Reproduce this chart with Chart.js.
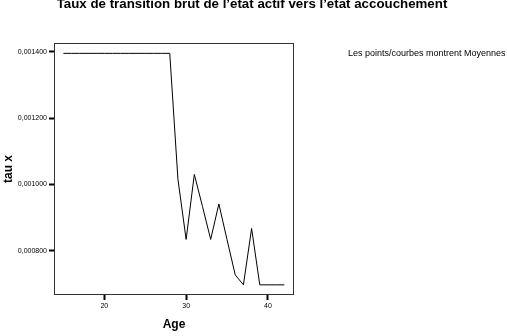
<!DOCTYPE html>
<html>
<head>
<meta charset="utf-8">
<script src="https://cdn.jsdelivr.net/npm/chart.js@4.4.0/dist/chart.umd.min.js"></script>
<style>
html,body{margin:0;padding:0;background:#fff;}
#wrap{position:relative;width:507px;height:336px;}
</style>
</head>
<body>
<div id="wrap"><canvas id="c" width="507" height="336"></canvas></div>
<script>
const ages = [15,16,17,18,19,20,21,22,23,24,25,26,27,28,29,30,31,32,33,34,35,36,37,38,39,40,41,42];
const tauX = [0.001395,0.001395,0.001395,0.001395,0.001395,0.001395,0.001395,0.001395,0.001395,0.001395,0.001395,0.001395,0.001395,0.001395,
  0.001015,0.000834,0.001030,0.000933,0.000834,0.000941,0.000833,0.000727,0.000697,0.000867,0.000697,0.000697,0.000697,0.000697];
const xTicks = [20,30,40];
const yTicks = [0.0008,0.0010,0.0012,0.0014];
const titleText = "Taux de transition brut de l’etat actif vers l’etat accouchement";
const noteText = "Les points/courbes montrent Moyennes";
const xTitle = "Age";
const yTitle = "tau x";

const FONT = "'Liberation Sans', Arial, sans-serif";

const extras = {
  id:'extras',
  afterDraw(chart){
    const ctx = chart.ctx, a = chart.chartArea;
    ctx.save();
    ctx.strokeStyle = '#333';
    ctx.lineWidth = 1;
    ctx.strokeRect(Math.round(a.left)+0.5, Math.round(a.top)+0.5, Math.round(a.right-a.left)-1, Math.round(a.bottom-a.top)-1);
    ctx.fillStyle = '#000';
    ctx.font = "bold 13.3px " + FONT;
    ctx.textAlign = 'center';
    ctx.textBaseline = 'alphabetic';
    ctx.fillText(titleText, 252, 8);
    ctx.font = "9px " + FONT;
    ctx.textAlign = 'left';
    ctx.textBaseline = 'middle';
    ctx.fillText(noteText, 348, 54);
    ctx.restore();
  }
};

new Chart(document.getElementById('c'), {
  type:'line',
  data:{ datasets:[{ data: ages.map((a,i)=>({x:a,y:tauX[i]})), borderColor:'#000', borderWidth:1, pointRadius:0, tension:0, fill:false }]},
  options:{
    responsive:false, animation:false, devicePixelRatio:1,
    layout:{ padding:{ left:0, top:43, right:213, bottom:0 } },
    plugins:{ legend:{display:false}, tooltip:{enabled:false}, title:{display:false} },
    scales:{
      x:{
        type:'linear', min:13.855, max:43.18,
        afterBuildTicks: s => { s.ticks = xTicks.map(v=>({value:v})); },
        afterFit: s => { s.height = 41; },
        grid:{ drawOnChartArea:false, drawTicks:true, tickLength:5, tickWidth:2, tickColor:'#000' },
        border:{ display:false },
        ticks:{ color:'#000', font:{ family:FONT, size:7 }, padding:2, maxRotation:0 },
        title:{ display:true, text:xTitle, color:'#000', font:{ family:FONT, size:12, weight:'bold' }, padding:{top:7} }
      },
      y:{
        type:'linear', min:0.0006664, max:0.0014262,
        afterBuildTicks: s => { s.ticks = yTicks.map(v=>({value:v})); },
        afterFit: s => { s.width = 54; },
        grid:{ drawOnChartArea:false, drawTicks:true, tickLength:5, tickWidth:2, tickColor:'#000' },
        border:{ display:false },
        ticks:{ color:'#000', font:{ family:FONT, size:7 }, padding:2, callback: v => v.toFixed(6).replace('.',',') },
        title:{ display:true, text:yTitle, color:'#000', font:{ family:FONT, size:12, weight:'bold' }, padding:{top:1,bottom:0} }
      }
    }
  },
  plugins:[extras]
});
</script>
</body>
</html>
